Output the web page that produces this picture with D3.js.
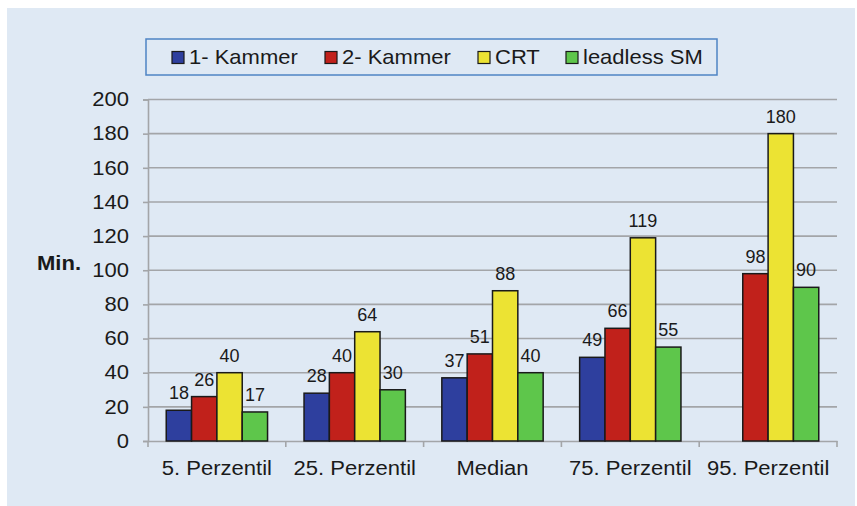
<!DOCTYPE html>
<html>
<head>
<meta charset="utf-8">
<script src="https://cdn.jsdelivr.net/npm/d3@7"></script>
<style>
  body { margin: 0; background: #fff; }
  svg { display: block; font-family: 'Liberation Sans', Arial, sans-serif; }
</style>
</head>
<body>
<div class="container"></div>
<script>
const categories = ['5. Perzentil', '25. Perzentil', 'Median', '75. Perzentil', '95. Perzentil'];
const seriesNames = ['1- Kammer', '2- Kammer', 'CRT', 'leadless SM'];
const einKammer = [18, 28, 37, 49, null];
const zweiKammer = [26, 40, 51, 66, 98];
const crt = [40, 64, 88, 119, 180];
const leadless = [17, 30, 40, 55, 90];
const yTicks = [0, 20, 40, 60, 80, 100, 120, 140, 160, 180, 200];

const seriesValues = [einKammer, zweiKammer, crt, leadless];
const colors = ['#2e3f9e', '#c1211b', '#ece333', '#5ec64b'];

const width = 857;
const height = 506;
const plotLeft = 148;
const plotRight = 837;
const plotTop = 99.5;
const plotBottom = 441;

// the original text is drawn a bit wider than plain Arial
const stretch = (sel, k) =>
  sel.each(function () {
    const t = d3.select(this);
    const x = +t.attr('x') || 0;
    const y = +t.attr('y') || 0;
    t.attr('x', 0)
      .attr('y', 0)
      .attr('transform', `translate(${x},${y}) scale(${k},1)`);
  });

const svg = d3
  .select('.container')
  .append('svg')
  .attr('width', width)
  .attr('height', height);

svg
  .append('rect')
  .attr('x', 7)
  .attr('y', 8)
  .attr('width', 848)
  .attr('height', height - 8)
  .attr('fill', '#dfe9f4');

const x0 = d3.scaleBand().domain(categories).range([plotLeft, plotRight]);
const x1 = d3
  .scaleBand()
  .domain(seriesNames)
  .range([0, x0.bandwidth()])
  .paddingOuter(0.72);
const y = d3.scaleLinear().domain([0, 200]).range([plotBottom, plotTop]);

// gridlines
svg
  .append('g')
  .selectAll('line')
  .data(yTicks.slice(1))
  .enter()
  .append('line')
  .attr('x1', plotLeft)
  .attr('x2', plotRight)
  .attr('y1', (d) => y(d))
  .attr('y2', (d) => y(d))
  .attr('stroke', '#a3a5a8')
  .attr('stroke-width', 1.6);

const yAxis = d3.axisLeft(y).tickValues(yTicks).tickSize(5).tickPadding(14);
const gy = svg
  .append('g')
  .attr('transform', `translate(${plotLeft},0)`)
  .call(yAxis);
gy.select('.domain').attr('stroke', '#a3a5a8').attr('stroke-width', 1.6);
gy.selectAll('.tick line').attr('stroke', '#a3a5a8').attr('stroke-width', 1.6);
gy.selectAll('.tick text')
  .style('font-size', '19.5px')
  .style('font-family', 'Liberation Sans, Arial, sans-serif')
  .attr('fill', '#1a1a1a')
  .call(stretch, 1.13);

const xAxis = d3.axisBottom(x0).tickSize(0).tickSizeOuter(0).tickPadding(0);
const gx = svg
  .append('g')
  .attr('transform', `translate(0,${plotBottom})`)
  .call(xAxis);
gx.select('.domain').attr('stroke', '#a3a5a8').attr('stroke-width', 1.6);
gx.selectAll('.tick text')
  .attr('y', 34)
  .attr('dy', 0)
  .style('font-size', '19.5px')
  .style('font-family', 'Liberation Sans, Arial, sans-serif')
  .attr('fill', '#1a1a1a')
  .call(stretch, 1.13);

// category separators
svg
  .append('g')
  .selectAll('line')
  .data(categories.map((c) => x0(c)).concat([plotRight]))
  .enter()
  .append('line')
  .attr('x1', (d) => d)
  .attr('x2', (d) => d)
  .attr('y1', plotBottom)
  .attr('y2', plotBottom + 6)
  .attr('stroke', '#a3a5a8')
  .attr('stroke-width', 1.6);

svg
  .append('text')
  .attr('x', 37)
  .attr('y', y(100))
  .style('font-size', '19.5px')
  .style('font-weight', 'bold')
  .attr('fill', '#1a1a1a')
  .text('Min.')
  .call(stretch, 1.13);

// bars
seriesValues.forEach((vals, si) => {
  const g = svg.append('g');
  const data = vals
    .map((v, i) => ({ cat: categories[i], v }))
    .filter((d) => d.v !== null);
  g.selectAll('rect')
    .data(data)
    .enter()
    .append('rect')
    .attr('x', (d) => x0(d.cat) + x1(seriesNames[si]))
    .attr('y', (d) => y(d.v))
    .attr('width', x1.bandwidth())
    .attr('height', (d) => y(0) - y(d.v))
    .attr('fill', colors[si])
    .attr('stroke', '#1a1a1a')
    .attr('stroke-width', 1.5);
  g.selectAll('text')
    .data(data)
    .enter()
    .append('text')
    .attr('x', (d) => x0(d.cat) + x1(seriesNames[si]) + x1.bandwidth() / 2)
    .attr('y', (d) => y(d.v) - 11)
    .attr('text-anchor', 'middle')
    .style('font-size', '18px')
    .attr('fill', '#1a1a1a')
    .text((d) => d.v);
});

// legend
const legend = svg.append('g');
legend
  .append('rect')
  .attr('x', 146)
  .attr('y', 39)
  .attr('width', 571)
  .attr('height', 36)
  .attr('fill', '#dfe9f4')
  .attr('stroke', '#4f84c4')
  .attr('stroke-width', 1.5);

const legendX = [172, 325, 478, 566];
seriesNames.forEach((name, i) => {
  legend
    .append('rect')
    .attr('x', legendX[i])
    .attr('y', 51.5)
    .attr('width', 12)
    .attr('height', 12)
    .attr('fill', colors[i])
    .attr('stroke', '#1a1a1a')
    .attr('stroke-width', 1.2);
  legend
    .append('text')
    .attr('x', legendX[i] + 17)
    .attr('y', 64)
    .style('font-size', '20px')
    .attr('fill', '#1a1a1a')
    .text(name)
    .call(stretch, 1.1);
});
</script>
</body>
</html>
